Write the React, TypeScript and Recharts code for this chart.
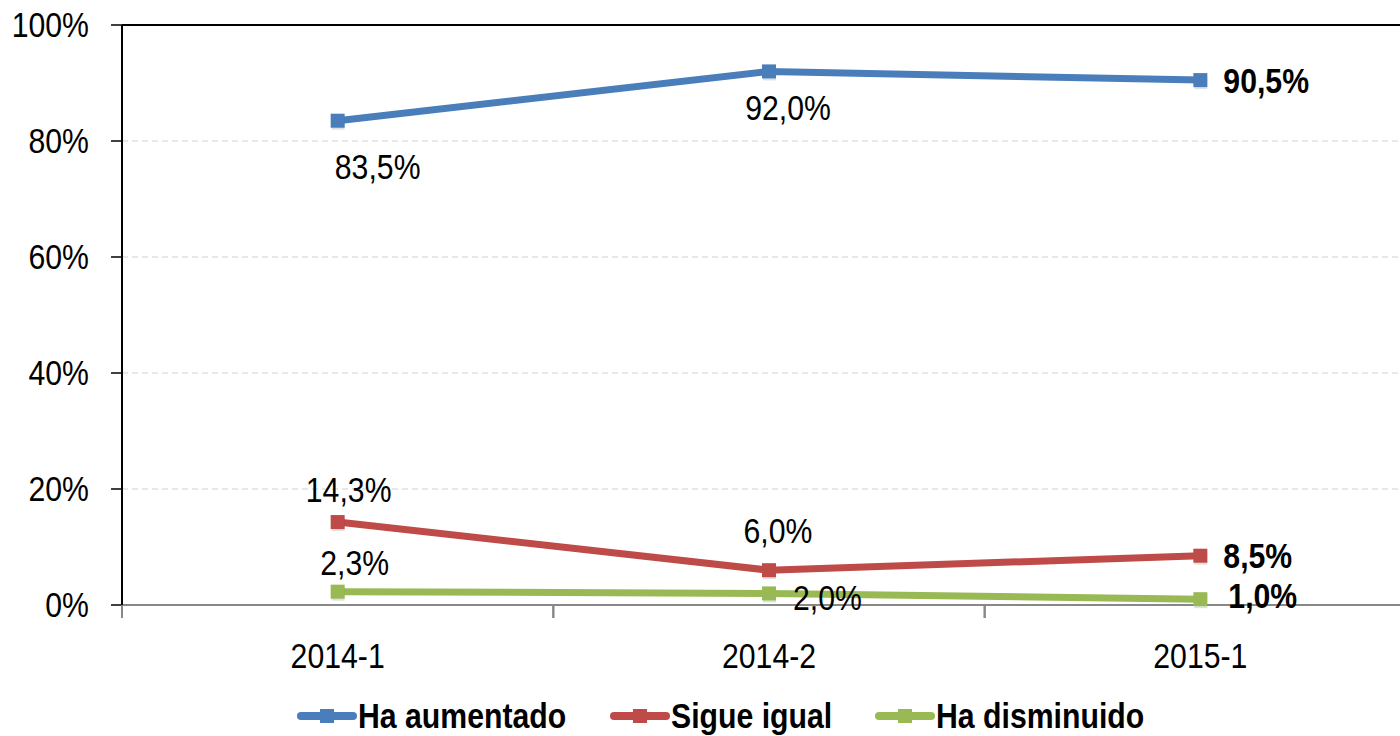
import React from 'react';
import { LineChart, Line, XAxis, YAxis, CartesianGrid, Legend, LabelList, ReferenceLine } from 'recharts';

const PERIODS = ['2014-1', '2014-2', '2015-1'];
const HA_AUMENTADO = [83.5, 92.0, 90.5];
const SIGUE_IGUAL = [14.3, 6.0, 8.5];
const HA_DISMINUIDO = [2.3, 2.0, 1.0];
const Y_TICKS = [0, 20, 40, 60, 80, 100];

const FONT = "'Liberation Sans', Arial, sans-serif";
const NARROW = 0.84; // mimic Arial Narrow by squeezing Liberation Sans

const W = 1416;
const H = 736;
const Y_AXIS_W = 122;

const data = PERIODS.map((period, i) => ({
  period,
  aumentado: HA_AUMENTADO[i],
  igual: SIGUE_IGUAL[i],
  disminuido: HA_DISMINUIDO[i],
}));

const SERIES = [
  { key: 'aumentado', name: 'Ha aumentado', color: '#4a7ebb', legendX: 297 },
  { key: 'igual', name: 'Sigue igual', color: '#be4b48', legendX: 610 },
  { key: 'disminuido', name: 'Ha disminuido', color: '#98b954', legendX: 875 },
];

// label offsets relative to the point: [dx, dy, anchor] for each period
const LABEL_PLACE: Record<string, [number, number, string][]> = {
  aumentado: [[40, 46, 'middle'], [19, 36, 'middle'], [23, 0, 'start']],
  igual: [[11, -33, 'middle'], [9, -40, 'middle'], [23, 0, 'start']],
  disminuido: [[17, -29, 'middle'], [24, 4, 'start'], [28, -4, 'start']],
};

const fmt = (v: number) => v.toFixed(1).replace('.', ',') + '%';

const NarrowText = ({ x, y, anchor = 'middle', bold = false, size = 36, children }: any) => (
  <text
    transform={`translate(${x},${y}) scale(${NARROW},1)`}
    x={0}
    y={0}
    textAnchor={anchor}
    dominantBaseline="central"
    fontFamily={FONT}
    fontSize={size}
    fontWeight={bold ? 'bold' : 'normal'}
    fill="#000"
  >
    {children}
  </text>
);

const makeLabel = (key: string) => (props: any) => {
  const { x, y, value, index } = props;
  const [dx, dy, anchor] = LABEL_PLACE[key][index];
  const last = index === PERIODS.length - 1;
  return (
    <NarrowText key={`l-${key}-${index}`} x={x + dx} y={y + dy} anchor={anchor} bold={last}>
      {fmt(value)}
    </NarrowText>
  );
};

const SquareDot = (color: string) => (props: any) => {
  const { cx, cy, index } = props;
  if (cx == null || cy == null) return null;
  return (
    <g key={`d-${index}`}>
      <rect x={cx - 6} y={cy - 4} width={13} height={13} fill="#000" opacity={0.12} />
      <rect x={cx - 7} y={cy - 7} width={14} height={14} fill={color} />
    </g>
  );
};

const XTick = (props: any) => {
  const { x, y, payload } = props;
  const half = (W - Y_AXIS_W) / PERIODS.length / 2;
  return (
    <g>
      <line x1={x - half} y1={y - 8} x2={x - half} y2={y + 5} stroke="#888" strokeWidth={2} />
      <line x1={x + half} y1={y - 8} x2={x + half} y2={y + 5} stroke="#888" strokeWidth={2} />
      <NarrowText x={x} y={y + 43}>{payload.value}</NarrowText>
    </g>
  );
};

const YTick = (props: any) => {
  const { x, y, payload } = props;
  return (
    <NarrowText x={x} y={y} anchor="end">
      {payload.value + '%'}
    </NarrowText>
  );
};

const LegendContent = () => (
  <svg width={1400} height={40} style={{ display: 'block' }}>
    {SERIES.map((s) => (
      <g key={s.key} transform={`translate(${s.legendX},20)`}>
        <line x1={4} y1={0} x2={56} y2={0} stroke={s.color} strokeWidth={8} strokeLinecap="round" />
        <rect x={23} y={-7} width={14} height={14} fill={s.color} />
        <NarrowText x={61} y={0} anchor="start" bold>
          {s.name}
        </NarrowText>
      </g>
    ))}
  </svg>
);

export default function App() {
  return (
    <div style={{ position: 'fixed', left: 0, top: 0, width: 1400, height: H, overflow: 'hidden', background: '#fff' }}>
      <LineChart width={W} height={H} data={data} margin={{ top: 25, right: 0, left: 0, bottom: 0 }}>
        <CartesianGrid vertical={false} stroke="#d0d0d0" strokeDasharray="6 4" />
        <XAxis
          dataKey="period"
          scale="band"
          height={91}
          axisLine={{ stroke: '#888', strokeWidth: 2 }}
          tickLine={false}
          tick={<XTick />}
          interval={0}
        />
        <YAxis
          type="number"
          domain={[0, 100]}
          ticks={Y_TICKS}
          width={Y_AXIS_W}
          axisLine={{ stroke: '#000', strokeWidth: 2 }}
          tickLine={{ stroke: '#000', strokeWidth: 1.5 }}
          tickSize={11}
          tickMargin={22}
          tick={<YTick />}
        />
        <ReferenceLine y={100} stroke="#000" strokeWidth={2} />
        {SERIES.map((s) => (
          <Line
            key={s.key}
            dataKey={s.key}
            name={s.name}
            stroke={s.color}
            strokeWidth={7}
            dot={SquareDot(s.color)}
            activeDot={false}
            isAnimationActive={false}
          >
            <LabelList dataKey={s.key} content={makeLabel(s.key)} />
          </Line>
        ))}
        <Legend verticalAlign="bottom" height={40} content={<LegendContent />} />
      </LineChart>
    </div>
  );
}
